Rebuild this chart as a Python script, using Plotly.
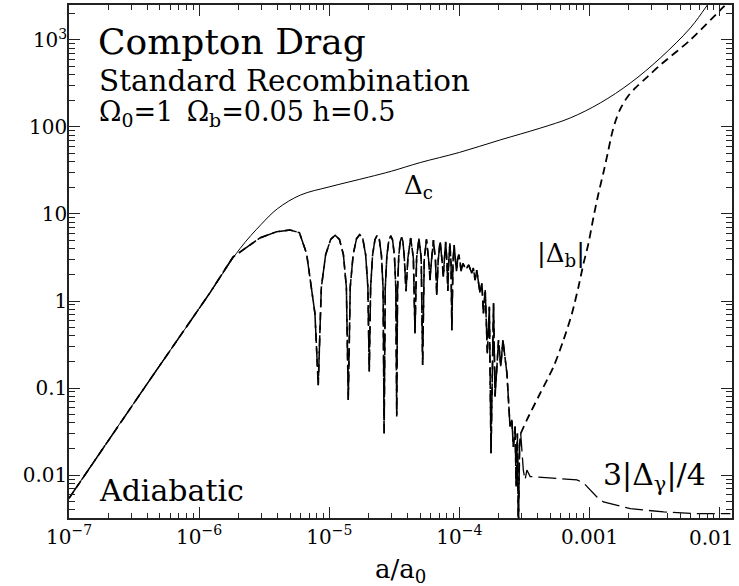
import plotly.graph_objects as go

# ---------------- data ----------------
# Delta_c (solid)
a_c = [1e-7, 1.72e-7, 4.18e-7, 1.21e-6, 2.06e-6, 3e-6, 4e-6, 6e-6, 1e-5, 2e-5, 3e-5,
       5e-5, 1e-4, 2.06e-4, 4.18e-4, 7.11e-4, 1.21e-3, 2.06e-3, 3.5e-3, 5.95e-3, 7.76e-3, 9e-3]
d_c = [0.0054, 0.0179, 0.124, 1.24, 4.0, 7.6, 11.5, 16.5, 20.5, 26.5, 31,
       39, 51, 71, 97, 127, 189, 320, 621, 1374, 2333, 3200]

# shared oscillating part of |Delta_b| and 3|Delta_gamma|/4 (a in units of 1e-6)
a_osc = [0.1, 0.172, 0.418, 1.21, 1.82, 2.93, 3.94, 4.99, 5.9, 6.70, 7.76, 8.23,
         8.69, 9.38, 10.25, 11.1, 11.98, 12.85, 13.54, 14.0,
         14.5, 15.26, 16.2, 17.15, 18.1, 19.04, 19.8, 20.3,
         20.79, 21.52, 22.44, 23.35, 24.27, 25.18, 25.91, 26.4,
         26.93, 27.72, 28.71, 29.7, 30.69, 31.68, 32.47, 33.0,
         33.47, 34.18, 35.07, 35.95, 36.84, 37.72, 38.9,
         40.2, 42.25, 44.3, 45.6,
         46.9, 48.9, 50.9, 52.2,
         53.7, 55.85, 58.0, 59.5,
         61.0, 63.2, 65.5, 67.0,
         68.7, 71.1, 73.6, 75.3,
         76.5, 78.4, 80.3, 81.5,
         82.7, 84.5, 86.3, 87.5,
         89.3, 91.2, 93.2, 95.0,
         97.0, 99.0, 101.0, 103.0,
         106.6, 112, 118, 124.4, 128, 132, 136, 144, 149, 153, 158, 164, 170, 175,
         183, 188, 200, 208, 216, 232, 245, 253, 260, 268, 273, 279, 284, 290, 296]
d_osc = [0.0054, 0.0179, 0.124, 1.24, 3.2, 5.3, 6.25, 6.55, 6.1, 3.5, 0.72, 0.108,
         1.43, 3.4, 5.1, 5.7, 5.1, 3.4, 1.43, 0.073,
         1.45, 3.4, 5.2, 5.8, 5.2, 3.4, 1.45, 0.154,
         1.43, 3.36, 5.07, 5.7, 5.07, 3.36, 1.43, 0.030,
         1.4, 3.3, 5.0, 5.6, 5.0, 3.3, 1.4, 0.047,
         1.35, 3.2, 4.8, 5.4, 4.8, 3.2, 1.3,
         3.1, 5.3, 3.1, 0.425,
         3.1, 5.2, 3.1, 0.184,
         3.0, 5.1, 3.0, 1.74,
         2.9, 5.0, 2.9, 1.17,
         2.9, 4.9, 2.9, 1.9,
         2.8, 4.8, 2.8, 1.3,
         2.7, 4.6, 2.7, 0.46,
         2.8, 4.4, 3.0, 2.2,
         3.0, 3.4, 2.9, 2.2,
         2.7, 2.3, 2.6, 2.08, 2.4, 1.74, 2.27, 1.23, 1.6, 0.72, 1.34, 0.25, 0.86, 0.0178,
         0.94, 0.08, 0.356, 0.176, 0.356, 0.147, 0.036, 0.043, 0.021, 0.036, 0.0074, 0.030,
         0.002, 0.021, 0.030]

# |Delta_b| after the split (a in units of 1e-6)
a_b_tail = [296, 330, 418, 529, 631, 733, 823, 900, 982, 1070, 1170, 1280, 1380, 1490,
            1600, 1720, 1950, 2250, 2800, 3500, 5950, 10500, 11600]
d_b_tail = [0.030, 0.043, 0.087, 0.176, 0.356, 0.72, 1.46, 2.71, 4.6, 9.0, 17, 30, 50, 85,
            122, 160, 220, 281, 380, 516, 1000, 2333, 2700]

# 3|Delta_gamma|/4 after the split (a in units of 1e-6)
a_g_tail = [296, 310, 320, 330, 350, 500, 800, 900, 1140, 1280, 2060, 3710, 6700, 12100]
d_g_tail = [0.030, 0.0114, 0.0088, 0.0114, 0.0096, 0.0093, 0.0088, 0.0081, 0.0056, 0.0049,
            0.0041, 0.00377, 0.0036, 0.0036]

x_tickvals = [1e-7, 1e-6, 1e-5, 1e-4, 1e-3, 1e-2]
x_ticktext = ["10<sup>\u22127</sup>", "10<sup>\u22126</sup>", "10<sup>\u22125</sup>",
              "10<sup>\u22124</sup>", "0.001", ""]
last_x_label = "0.01"   # drawn slightly left of its tick so it stays inside the page
y_tickvals = [0.01, 0.1, 1, 10, 100, 1000]
y_ticktext = ["0.01", "0.1", "1", "10", "100", "10<sup>3</sup>"]

# ---------------- figure ----------------
FONT = "DejaVu Serif"
scale = 1e-6
a_osc_s = [v * scale for v in a_osc]

fig = go.Figure()
# shared oscillating part: drawn with both dash styles on top of each other
fig.add_trace(go.Scatter(x=a_osc_s, y=d_osc, mode="lines",
                         line=dict(color="black", width=1.5, dash="18px,5px")))
fig.add_trace(go.Scatter(x=a_osc_s, y=d_osc, mode="lines",
                         line=dict(color="black", width=1.6, dash="8px,5px")))
# tails
fig.add_trace(go.Scatter(x=[v * scale for v in a_g_tail], y=d_g_tail, mode="lines",
                         line=dict(color="black", width=1.3, dash="18px,6px")))
fig.add_trace(go.Scatter(x=[v * scale for v in a_b_tail], y=d_b_tail, mode="lines",
                         line=dict(color="black", width=1.8, dash="8px,5px", shape="spline",
                                   smoothing=0.8)))
fig.add_trace(go.Scatter(x=a_c, y=d_c, mode="lines",
                         line=dict(color="black", width=1.0, shape="spline", smoothing=1.0)))

def minor_vals(lo, hi):
    out = []
    for e in range(lo, hi):
        for k in range(2, 10):
            out.append(k * 10.0 ** e)
    return out

axis_common = dict(
    type="log", showgrid=False, zeroline=False, showline=True, linecolor="#222",
    linewidth=1.5, mirror="ticks", ticks="inside", ticklen=11, tickwidth=1.2,
    tickcolor="#222", tickfont=dict(family=FONT, size=20, color="black"),
    tickmode="array", automargin=False, ticklabeloverflow="allow",
)
fig.update_xaxes(**axis_common, range=[-7, -1.905], tickvals=x_tickvals, ticktext=x_ticktext,
                 minor=dict(ticks="inside", ticklen=5, tickwidth=1, tickcolor="#222",
                            tickmode="array", tickvals=minor_vals(-7, -1), showgrid=False))
fig.update_yaxes(**axis_common, range=[-2.494, 3.402], tickvals=y_tickvals, ticktext=y_ticktext,
                 ticklabelstandoff=-4,
                 minor=dict(ticks="inside", ticklen=6, tickwidth=1, tickcolor="#222",
                            tickmode="array", tickvals=minor_vals(-3, 4), showgrid=False))

def ann(text, x, y, size, xanchor="left"):
    fig.add_annotation(text=text, x=x, y=y, xref="paper", yref="paper", showarrow=False,
                       xanchor=xanchor, yanchor="middle",
                       font=dict(family=FONT, size=size, color="black"))

W, L, T, B = 662.4, 69.3, 5, 518
px = lambda p: (p - L) / W
py = lambda p: (B - p) / (B - T)

ann("Compton Drag", px(96), py(41), 36)
ann("Standard Recombination", px(97), py(81), 29.4)
ann("\u03a9<sub>0</sub>=1\u2002\u03a9<sub>b</sub>=0.05 h=0.5", px(97), py(113), 27)
ann("Adiabatic", px(97), py(490), 30)
ann("\u0394<sub>c</sub>", px(402), py(186), 26)
ann("|\u0394<sub>b</sub>|", px(535), py(254), 26)
ann("3|\u0394<sub>\u03b3</sub>|/4", px(601), py(476), 30)
ann("a/a<sub>0</sub>", 0.5, py(570), 26, xanchor="center")
ann(last_x_label, px(736), py(538), 20, xanchor="right")

fig.update_layout(
    template="none",
    width=739, height=586, autosize=False,
    margin=dict(l=69, r=7, t=5, b=68),
    plot_bgcolor="white", paper_bgcolor="white",
    showlegend=False,
)

fig.write_html("out.html", config={"displayModeBar": False},
               post_script="document.body.style.margin='0px';document.body.style.overflow='hidden';")
